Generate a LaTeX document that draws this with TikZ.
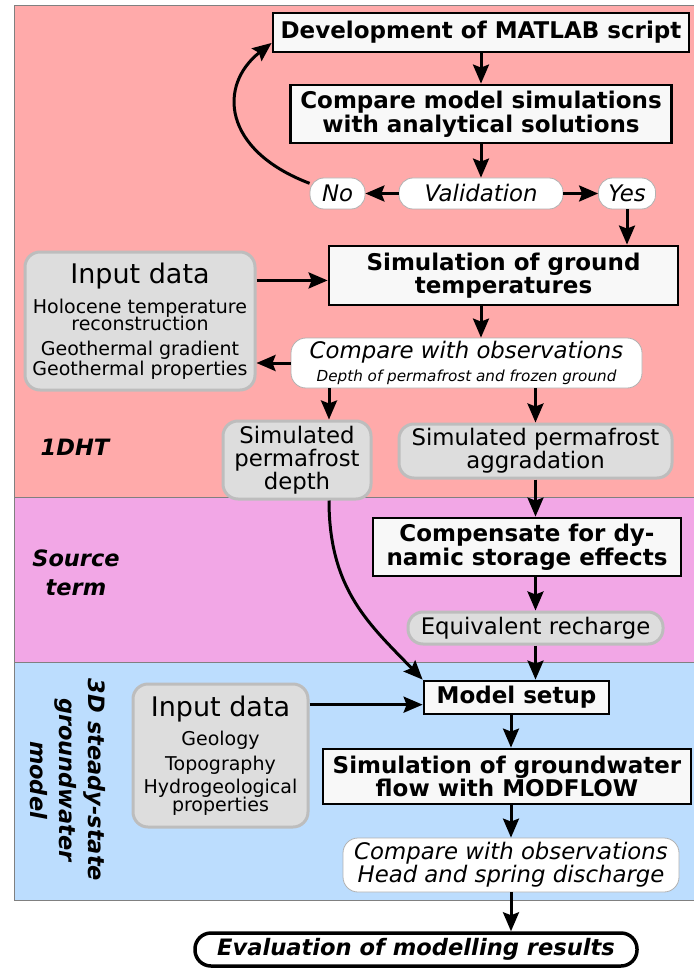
\documentclass[tikz,border=0pt]{standalone}
\usepackage{fontspec}
\setmainfont{DejaVu Sans}
\usetikzlibrary{arrows.meta,calc}
\definecolor{dhtpink}{RGB}{255,170,170}
\definecolor{srcpink}{RGB}{242,167,230}
\definecolor{gwblue}{RGB}{188,221,254}
\definecolor{boxgray}{RGB}{221,221,221}
\definecolor{boxrim}{RGB}{189,189,189}
\definecolor{boxwhite}{RGB}{248,248,248}
\tikzset{
 procbox/.style={draw,line width=2.8pt,fill=boxwhite,align=center,inner sep=0pt,font={\fontsize{23}{23.5}\selectfont\bfseries}},
 databox/.style={draw=boxrim,line width=3pt,fill=boxgray,rounded corners=15pt,align=center,inner sep=0pt,font={\fontsize{22.8}{23}\selectfont\lineskiplimit=-50pt}},
 inputbox/.style={databox,font={\fontsize{19}{17.5}\selectfont\lineskiplimit=-50pt}},
 decbox/.style={draw=gray!60,line width=0.8pt,fill=white,rounded corners=14pt,align=center,inner sep=0pt,font={\fontsize{22.8}{23}\selectfont\itshape\lineskiplimit=-50pt}},
 arr/.style={line width=3pt,-{Stealth[length=19pt,width=16pt,inset=3pt]}},
 zonelabel/.style={align=center,font={\fontsize{22.5}{29}\selectfont\bfseries\itshape}}
}
\begin{document}
\begin{tikzpicture}[x=1pt,y=1pt,yscale=-1]
\useasboundingbox (0,0) rectangle (693,968);
\fill [white] (0,0) rectangle (693,968);
\draw [gray,line width=0.8pt,fill=dhtpink] (14,5) rectangle (700,497);
\draw [gray,line width=0.8pt,fill=srcpink] (14,497) rectangle (700,662);
\draw [gray,line width=0.8pt,fill=gwblue] (14,662) rectangle (700,900);

\node (dht) at (75,447) [zonelabel] {1DHT};
\node (src) at (76,573) [zonelabel] {Source\\term};
\node (gwlabel) at (68,780) [zonelabel,rotate=-90] {3D steady-state\\groundwater\\model};

\node (dev) at (481,32.5) [procbox,minimum width=416pt,minimum height=39pt] {Development of MATLAB script};
\node (cmp) at (481,114) [procbox,minimum width=381pt,minimum height=58pt] {Compare model simulations\\with analytical solutions};
\node (val) at (481,193.5) [decbox,minimum width=164pt,minimum height=31pt] {Validation};
\node (no) at (337.5,193.5) [decbox,minimum width=55pt,minimum height=31pt] {No};
\node (yes) at (627,193.5) [decbox,minimum width=57pt,minimum height=31pt] {Yes};
\node (simg) at (503.5,275.5) [procbox,minimum width=349pt,minimum height=59pt] {Simulation of ground\\temperatures};
\node (inp1) at (140,321) [inputbox,minimum width=230pt,minimum height=138pt] {{\fontsize{27}{30}\selectfont Input data}\\[12pt]Holocene temperature\\reconstruction\\[7pt]Geothermal gradient\\[2.5pt]Geothermal properties};
\node (cmpobs) at (466.5,363) [decbox,rounded corners=15pt,minimum width=351pt,minimum height=50pt] {Compare with observations\\{\fontsize{15.2}{23}\selectfont Depth of permafrost and frozen ground}};
\coordinate (dlane) at (329,0);
\node (spd) at (297,460) [databox,minimum width=148pt,minimum height=78pt] {Simulated\\permafrost\\depth};
\node (spa) at (535.5,451) [databox,minimum width=273pt,minimum height=54pt] {Simulated permafrost\\aggradation};
\node (comp) at (527,547) [procbox,minimum width=308pt,minimum height=58pt] {Compensate for dy-\\namic storage effects};
\node (eqr) at (535.5,628) [databox,minimum width=255pt,minimum height=32pt] {Equivalent recharge};
\node (setup) at (516.5,697.5) [procbox,minimum width=185pt,minimum height=33pt] {Model setup};
\node (inp2) at (220.5,755.5) [inputbox,minimum width=175pt,minimum height=143pt] {{\fontsize{27}{30}\selectfont Input data}\\[12pt]Geology\\[7pt]Topography\\[6pt]Hydrogeological\\properties};
\node (simgw) at (507,776.5) [procbox,minimum width=368pt,minimum height=55pt] {Simulation of groundwater\\flow with MODFLOW};
\node (cmpobs2) at (511,865) [decbox,rounded corners=15pt,minimum width=336pt,minimum height=54pt] {Compare with observations\\Head and spring discharge};
\node (eval) at (416,949.5) [draw,line width=3.5pt,fill=white,rounded corners=16pt,minimum width=442pt,minimum height=33pt,inner sep=0pt,font={\fontsize{22.6}{23}\selectfont\bfseries\itshape}] {Evaluation of modelling results};

\coordinate (simgin) at ($(simg.south west)!0.42!(simg.north west)$);
\coordinate (setupin) at ($(setup.south west)!0.3!(setup.north west)$);
\draw [arr] (dev.south) -- (cmp.north);
\draw [arr] (cmp.south) -- (val.north);
\draw [arr] (val.west) -- (no.east);
\draw [arr] (val.east) -- (yes.west);
\draw [arr] (no.160) .. controls (222,150) and (218,85) .. ($(dev.west)!0.5!(dev.south west)$);
\draw [arr] (yes.south) -- (yes.south |- simg.north);
\draw [arr] (simgin -| inp1.east) -- (simgin);
\draw [arr] (simg.south -| cmp.south) -- (cmpobs.north -| cmp.south);
\draw [arr] (cmpobs.west) -- (cmpobs.west -| inp1.east);
\draw [arr] (cmpobs.south -| dlane) -- (spd.north -| dlane);
\draw [arr] (cmpobs.south -| spa.north) -- (spa.north);
\draw [arr] (spa.south) -- (comp.north -| spa.south);
\draw [arr] (comp.south -| eqr.north) -- (eqr.north);
\draw [arr] (eqr.south) -- (setup.north -| eqr.south);
\draw [arr] (spd.south -| dlane) .. controls (329,590) and (370,625) .. (setup.north west);
\draw [arr] (setupin -| inp2.east) -- (setupin);
\draw [arr] (setup.south -| cmpobs2.north) -- (simgw.north -| cmpobs2.north);
\draw [arr] (simgw.south -| cmpobs2.north) -- (cmpobs2.north);
\draw [arr] (cmpobs2.south) -- (eval.north -| cmpobs2.south);
\end{tikzpicture}
\end{document}
